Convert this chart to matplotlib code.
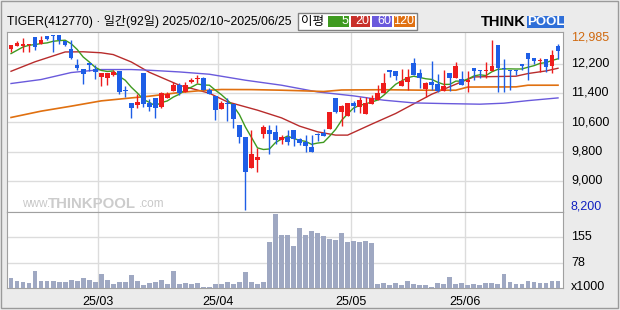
import numpy as np
import pandas as pd
import matplotlib
matplotlib.use('Agg')
import matplotlib.pyplot as plt
from matplotlib.patches import Rectangle

plt.rcParams['font.family'] = ['Liberation Sans', 'Noto Sans CJK KR', 'DejaVu Sans']

# daily OHLC, 2025/02/10 ~ 2025/06/25 (92 trading days)
opens = [12589, 12680, 12671, 12698, 12916, 12733, 12943, 12985, 12970, 12807,
         12589, 12162, 12045, 12208, 12045, 11835, 11819, 11901, 11990, 11493,
         11120, 11066, 11936, 11112, 11248, 11020, 11275, 11447, 11610, 11428,
         11691, 11782, 11810, 11493, 11310, 10957, 11130, 11093, 10522, 10204,
         9360, 9578, 10285, 10386, 10340, 10114, 10188, 10386, 10133, 10059,
         9932, 10285, 10304, 10413, 11265, 10876, 10775, 11112, 11020, 10820,
         11093, 11220, 11400, 12018, 11990, 11590, 11700, 12227, 11955, 11520,
         11700, 11656, 11455, 11944, 11819, 11792, 11700, 12091, 12018, 11990,
         11999, 12698, 12091, 12018, 12036, 12180, 12500, 12344, 12263, 12317,
         12135, 12680]
highs = [12710, 12807, 12907, 12744, 12916, 12943, 12943, 12985, 12985, 12807,
         12834, 12317, 12045, 12208, 12173, 11936, 11936, 12018, 11990, 11583,
         11120, 11384, 11936, 11229, 11248, 11430, 11420, 11700, 11660, 11700,
         11800, 11900, 11840, 11530, 11310, 11180, 11250, 11100, 10522, 10204,
         10386, 9888, 10522, 10522, 10522, 10250, 10386, 10400, 10170, 10240,
         10240, 10300, 10430, 10876, 11265, 11066, 11130, 11180, 11300, 11300,
         11350, 11629, 11944, 12030, 12000, 12064, 12064, 12340, 12060, 11690,
         12263, 11928, 12018, 11944, 12244, 12000, 12000, 12091, 12018, 12244,
         12834, 12698, 12317, 12018, 12036, 12180, 12500, 12344, 12363, 12317,
         12562, 12725]
lows = [12515, 12670, 12515, 12515, 12580, 12733, 12834, 12515, 12744, 12680,
        12325, 12018, 11656, 11999, 11792, 11591, 11629, 11863, 11357, 11292,
        10720, 10999, 11020, 10911, 10704, 11000, 11275, 11447, 11330, 11420,
        11660, 11664, 11475, 11384, 10658, 10957, 10630, 10432, 10040, 8200,
        9360, 9251, 10170, 9725, 10005, 10000, 9978, 9950, 9978, 9795,
        9795, 10100, 10231, 10413, 10860, 10495, 10770, 10880, 10850, 10820,
        11093, 11220, 11390, 11836, 11746, 11590, 11474, 11882, 11547, 11292,
        11474, 11420, 11455, 11455, 11819, 11610, 11427, 11746, 11820, 11800,
        11999, 11427, 11427, 11474, 11882, 12018, 11746, 12180, 11972, 11972,
        11944, 12336]
closes = [12698, 12771, 12725, 12744, 12652, 12834, 12861, 12943, 12834, 12706,
          12363, 12080, 11917, 12162, 11972, 11936, 11936, 11982, 11427, 11447,
          10993, 11156, 11101, 11020, 10990, 11411, 11384, 11629, 11411, 11610,
          11746, 11819, 11493, 11384, 10930, 11130, 11085, 10685, 10204, 9236,
          9733, 9651, 10467, 10277, 10114, 10195, 10068, 10133, 10040, 9960,
          9795, 10240, 10231, 10876, 10884, 11039, 11112, 11039, 11220, 11112,
          11265, 11400, 11683, 11972, 11863, 11719, 11836, 11882, 11808, 11683,
          11629, 11447, 11591, 11819, 12127, 11610, 11746, 12000, 11990, 12018,
          12127, 12080, 12053, 11999, 11999, 12135, 12317, 12263, 12309, 12108,
          12426, 12543]
# volume, x1000 shares
volume = [29.5, 20, 17, 14, 51, 20, 20, 20, 17, 17,
          26, 20, 29.5, 23, 17, 42, 23, 11, 18, 18,
          39, 20, 8, 14, 17, 23, 11, 51, 13, 14,
          11, 14, 4.5, 4.5, 11, 11, 17, 12, 17, 48,
          17, 12, 17, 141, 228, 163, 163, 129, 183, 163,
          175, 168, 160, 150, 147, 169, 141, 144, 141, 144,
          138, 11, 14, 8, 14, 8, 20, 11, 8, 8,
          4.5, 14, 11, 33, 11, 14, 8, 11, 8, 14,
          14, 11, 42, 17, 11, 11, 20, 17, 14, 14,
          20, 20]

# moving averages
ma5_head = [12472, 12562, 12652, 12698]
ma20_idx = [0, 4, 9, 12, 15, 17, 20, 23, 28, 33, 36, 41, 45, 48, 51, 54, 56, 60, 64, 70, 75, 77, 84, 86, 89, 91]
ma20_val = [11990, 12249, 12516, 12521, 12494, 12445, 12244, 11963, 11610, 11392, 11156, 10930, 10720,
            10495, 10340, 10250, 10250, 10549, 10840, 11365, 11705, 11836, 11855, 11928, 11999, 12072]
ma60_idx = [0, 5, 10, 15, 20, 23, 28, 33, 39, 45, 51, 57, 62, 67, 72, 78, 82, 86, 91]
ma60_val = [11656, 11765, 11955, 12037, 12037, 12018, 11972, 11909, 11746, 11610, 11427, 11319,
            11202, 11128, 11110, 11093, 11120, 11190, 11264]
ma120_idx = [0, 5, 10, 15, 20, 23, 28, 31, 35, 40, 45, 48, 52, 55, 62, 69, 74, 76, 84, 86, 91]
ma120_val = [10731, 10903, 11039, 11183, 11264, 11310, 11411, 11455, 11493, 11490, 11474, 11460,
             11438, 11480, 11487, 11474, 11474, 11560, 11564, 11610, 11610]

month_labels = ['25/03', '25/04', '25/05', '25/06']
month_first_idx = [15, 35, 57, 76]
price_ticks = [12200, 11400, 10600, 9800, 9000]
price_max, price_min = 12985, 8200
vol_ticks = [155, 78]

RED = '#ee1c1c'
BLUE = '#1e5ee6'
C5, C20, C60, C120 = '#3f9a20', '#b82c2c', '#6a5adc', '#e07010'
GRID = '#dcdcdc'
FRAME = '#a0a0a0'

W, H = 620, 310
fx = lambda px: px / W
fy = lambda py: 1 - py / H

fig = plt.figure(figsize=(6.2, 3.1), dpi=100, facecolor='#ebebeb')
ax = fig.add_axes([fx(7), fy(212), fx(556), 180 / H])
axv = fig.add_axes([fx(7), fy(288), fx(556), 76 / H], sharex=ax)

x = np.arange(len(closes))
o, h, l, c = map(np.array, (opens, highs, lows, closes))
col = np.where(c >= o, RED, BLUE)

# moving averages
ma5 = pd.Series(closes).rolling(5).mean().to_numpy()
ma5[:4] = ma5_head
ax.plot(ma20_idx, ma20_val, color=C20, lw=1.0, zorder=2)
ax.plot(ma60_idx, ma60_val, color=C60, lw=1.0, zorder=2)
ax.plot(ma120_idx, ma120_val, color=C120, lw=1.2, zorder=2)
ax.plot(x, ma5, color=C5, lw=1.0, zorder=2)

# candles
ax.vlines(x, l, h, colors=col, lw=1, zorder=3)
ax.bar(x, np.maximum(np.abs(c - o), 30), bottom=np.minimum(o, c), width=0.78,
       color=col, lw=0, zorder=4)

# volume
axv.bar(x, volume, width=0.8, color='#9fa8c2', lw=0, zorder=3)

for a in (ax, axv):
    a.set_facecolor('white')
    for s in a.spines.values():
        s.set_color(FRAME)
    a.tick_params(length=0, labelleft=False, labelbottom=False)
    a.set_yticks([])
    for m in month_first_idx:
        a.axvline(m - 0.5, color=GRID, lw=1, zorder=0)

for t in price_ticks:
    ax.axhline(t, color=GRID, lw=1, zorder=0)
for t in vol_ticks:
    axv.axhline(t, color=GRID, lw=1, zorder=0)

ax.set_xlim(-0.67, 91.83)
ax.set_ylim(8155, 13060)
axv.set_ylim(0, 233)

axv.set_xticks([m - 0.5 for m in month_first_idx])
axv.set_xticklabels(month_labels, fontsize=9)
axv.tick_params(labelbottom=True, pad=6)

# right side labels
lx = (571 - 7) / 556
ytr = ax.get_yaxis_transform()
for t in price_ticks:
    ax.text(lx, t, f'{t:,}', transform=ytr, fontsize=9, va='center', ha='left', clip_on=False)
ax.text(lx, min(price_max, 12920), f'{price_max:,}', transform=ytr, fontsize=9,
        va='center', ha='left', color='#d06a10', clip_on=False)
ax.text(lx, max(price_min, 8300), f'{price_min:,}', transform=ytr, fontsize=9,
        va='center', ha='left', color='#1020c0', clip_on=False)
vtr = axv.get_yaxis_transform()
for t in vol_ticks:
    axv.text(lx, t, str(t), transform=vtr, fontsize=9, va='center', ha='left', clip_on=False)
axv.text(lx, 3, 'x1000', transform=vtr, fontsize=9, va='center', ha='left', clip_on=False)

# watermark
fig.text(fx(22), fy(204), 'www.', fontsize=8.5, color='#c8c8c8', va='center', zorder=1)
fig.text(fx(48), fy(204), 'THINKPOOL', fontsize=10.8, fontweight='bold', color='#cccccc',
         va='center', zorder=1)
fig.text(fx(139), fy(204), '.com', fontsize=8.5, color='#c8c8c8', va='center', zorder=1)

# header
fig.text(fx(7), fy(22), 'TIGER(412770) · 일간(92일) 2025/02/10~2025/06/25',
         fontsize=8.7, va='center', ha='left')

# legend boxes
fig.add_artist(Rectangle((fx(298), fy(30)), fx(119), 17 / H, transform=fig.transFigure,
                         facecolor='white', edgecolor='#808080', lw=1))
fig.text(fx(301), fy(21.5), '이평', fontsize=9, va='center', ha='left')
for left, right, colr, lab in [(328, 349, C5, '5'), (351, 370, '#c8302a', '20'),
                               (372, 392, C60, '60'), (394, 415, C120, '120')]:
    fig.add_artist(Rectangle((fx(left), fy(27)), fx(right - left), 11 / H,
                             transform=fig.transFigure, facecolor=colr, lw=0))
    fig.text(fx(right - 1), fy(21.5), lab, fontsize=9, color='white', va='center', ha='right')

# logo
fig.text(fx(481), fy(22), 'THINK', fontsize=10.5, fontweight='bold', color='black', va='center')
fig.add_artist(Rectangle((fx(527), fy(28)), fx(37), 12 / H, transform=fig.transFigure,
                         facecolor='#2f6fd8', lw=0))
fig.text(fx(545.5), fy(22), 'POOL', fontsize=9.5, fontweight='bold', color='white',
         va='center', ha='center')

# outer frame
fig.add_artist(Rectangle((fx(1), fy(308)), fx(617), 307 / H, transform=fig.transFigure,
                         fill=False, edgecolor='#9a9a9a', lw=1))

fig.savefig('out.png', dpi=100, facecolor=fig.get_facecolor())
